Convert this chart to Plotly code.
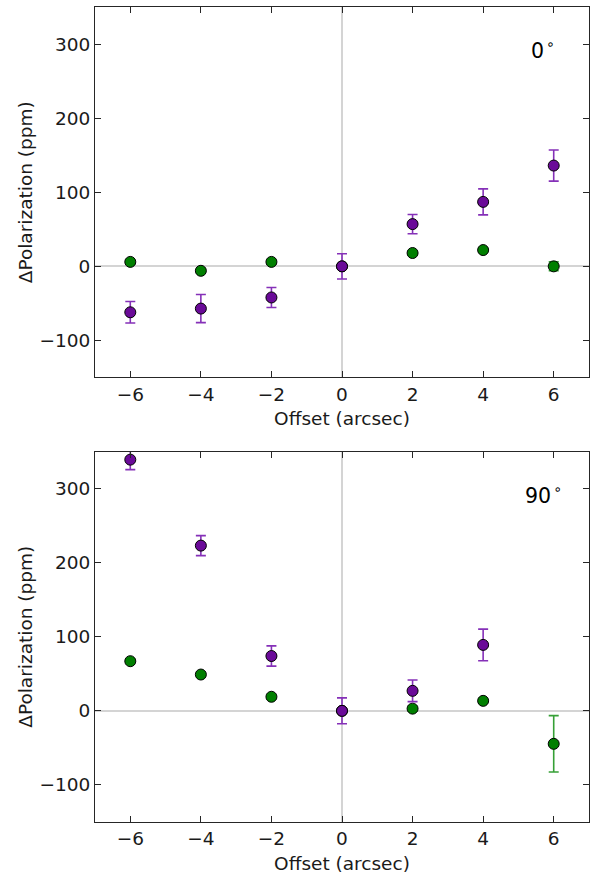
import plotly.graph_objects as go
from plotly.subplots import make_subplots

# Offsets of the measurement positions (arcsec)
offsets = [-6, -4, -2, 0, 2, 4, 6]

# Panel 1: position angle 0 deg
pa0_purple = [-62, -57, -42, 0, 57, 87, 136]
pa0_purple_err = [14.5, 19, 13.5, 17, 13, 17.5, 21]
pa0_green = [6, -6, 6, 0, 18, 22, 0]
pa0_green_err = [3, 3, 3, 3, 3, 3, 6]

# Panel 2: position angle 90 deg (no purple point at +6)
pa90_offsets_purple = [-6, -4, -2, 0, 2, 4]
pa90_purple = [339, 223, 74, 0, 27, 89]
pa90_purple_err = [13.5, 13.5, 13.7, 17.5, 14.6, 21.3]
pa90_green = [67, 49, 19, 0, 3, 13.5, -44.5]
pa90_green_err = [3, 3, 3, 3, 3, 3, 38]

panel_labels = ["0\u200a<sup>∘</sup>", "90\u200a<sup>∘</sup>"]

x_ticks = [-6, -4, -2, 0, 2, 4, 6]
y_ticks = [-100, 0, 100, 200, 300]

PURPLE_FILL = "#6a0a98"
PURPLE_ERR = "#8530b8"
GREEN_FILL = "#007f00"
GREEN_ERR = "#36a036"
FONT = "DejaVu Sans"
FSIZE = 18.5

fig = make_subplots(rows=2, cols=1, vertical_spacing=0.0908)


def add_series(row, x, y, err, fill, ecolor):
    fig.add_trace(
        go.Scatter(
            x=x, y=y, mode="markers",
            marker=dict(size=11, color=fill, line=dict(color="black", width=1)),
            error_y=dict(type="data", array=err, visible=True,
                         color=ecolor, thickness=1.6, width=5),
            showlegend=False,
        ),
        row=row, col=1,
    )


add_series(1, offsets, pa0_green, pa0_green_err, GREEN_FILL, GREEN_ERR)
add_series(1, offsets, pa0_purple, pa0_purple_err, PURPLE_FILL, PURPLE_ERR)
add_series(2, offsets, pa90_green, pa90_green_err, GREEN_FILL, GREEN_ERR)
add_series(2, pa90_offsets_purple, pa90_purple, pa90_purple_err, PURPLE_FILL, PURPLE_ERR)

axis_common = dict(
    showgrid=False, zeroline=True, zerolinecolor="#d4d4d4", zerolinewidth=1.5,
    showline=True, linecolor="#262626", linewidth=1.2, mirror="ticks",
    ticks="inside", ticklen=6, tickwidth=1.2, tickcolor="#262626",
    tickfont=dict(family=FONT, size=FSIZE, color="#1a1a1a"),
)

for r in (1, 2):
    fig.update_xaxes(
        range=[-7, 7], tickvals=x_ticks,
        ticktext=[str(v).replace("-", "−") for v in x_ticks],
        title=dict(text="Offset (arcsec)", font=dict(family=FONT, size=FSIZE, color="#1a1a1a"), standoff=8),
        row=r, col=1, **axis_common,
    )
    fig.update_yaxes(
        range=[-150, 350], tickvals=y_ticks,
        ticktext=[str(v).replace("-", "−") for v in y_ticks],
        title=dict(text="ΔPolarization (ppm)", font=dict(family=FONT, size=FSIZE, color="#1a1a1a"), standoff=1),
        row=r, col=1, **axis_common,
    )

for i, label in enumerate(panel_labels):
    ax = "" if i == 0 else str(i + 1)
    fig.add_annotation(
        x=5.7, y=292, xref="x" + ax, yref="y" + ax, text=label, showarrow=False,
        font=dict(family=FONT, size=20.5, color="black"),
    )

fig.update_layout(
    width=590, height=875,
    margin=dict(l=95, r=1, t=7, b=53),
    paper_bgcolor="white", plot_bgcolor="white",
    font=dict(family=FONT),
)

fig.write_html("out.html")
